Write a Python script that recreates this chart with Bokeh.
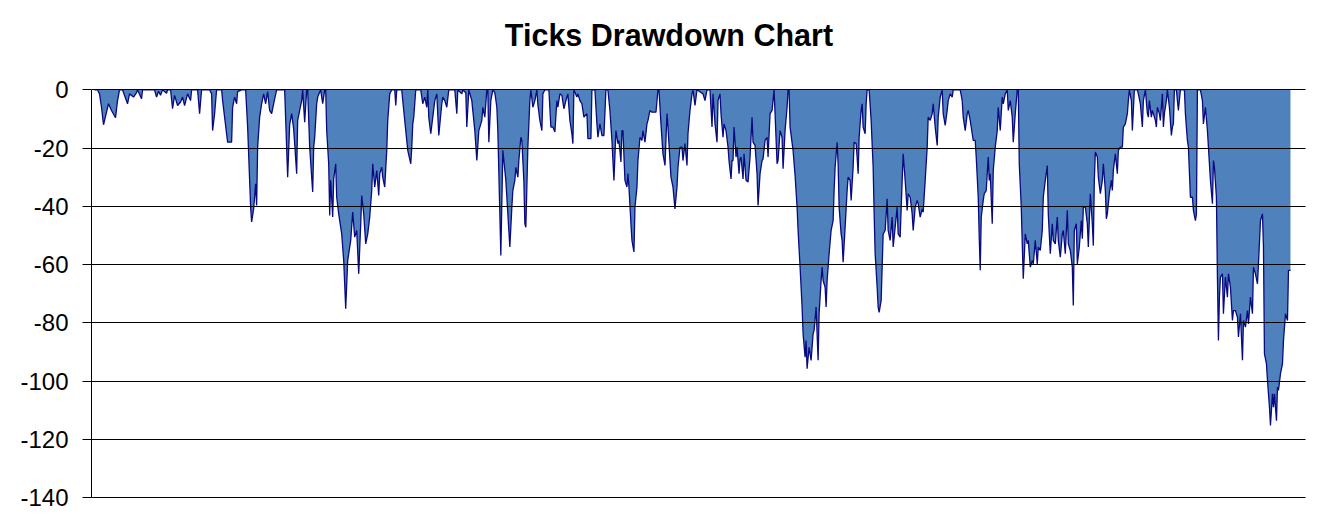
from bokeh.plotting import figure
from bokeh.models import Range1d, FixedTicker, Label
from bokeh.embed import file_html
from bokeh.resources import INLINE

title_text = "Ticks Drawdown Chart"
y_ticks = [0, -20, -40, -60, -80, -100, -120, -140]
y_tick_labels = ["0", "-20", "-40", "-60", "-80", "-100", "-120", "-140"]

ticks = [
    0, 3, 5, 7, 9, 12, 14, 17, 21, 23, 25,
    28, 33, 35, 39, 42, 43, 47, 48,
    60, 62, 64, 66, 68, 72, 73,
    76, 78, 80, 83, 86, 88, 90, 93, 96, 97,
    103, 105, 107,
    115, 117, 118, 120, 122,
    127, 128, 133, 137, 138, 140, 142, 143, 147,
    151, 153, 156, 157, 159, 161, 162, 163, 165, 167, 169, 171, 173, 175, 177, 180, 182,
    190, 193, 195, 197, 199, 202, 203, 205, 207, 208, 210, 212,
    213, 215, 218, 219, 220, 222, 223, 226, 228, 230,
    231, 232, 234, 235, 236, 238, 239, 241, 242, 244, 247, 249, 251, 253, 256, 258, 260, 262, 264,
    266, 267, 269, 271, 273, 275, 277, 278, 280, 282, 284, 285, 287, 288, 290, 292, 293, 295, 297,
    300, 301, 302, 307, 308, 311, 313, 316, 317, 318, 319, 321,
    326, 328, 330, 332, 333, 334, 336, 338, 340, 342, 344, 347, 348, 350, 352, 354,
    360, 362, 363, 367, 368, 371, 372, 374,
    377, 380, 382, 384, 387, 388, 390, 392, 393, 394, 396, 398, 400, 402,
    403, 406, 408, 411, 413, 415, 417, 418, 420, 421, 423, 424, 426, 427, 429, 430, 431, 433, 435, 436,
    438, 440, 442, 443, 445, 447, 448, 450,
    454, 456, 458, 460, 462, 463, 465, 467, 469, 471, 473, 475, 477, 478, 479,
    482, 483, 485, 487, 489, 492, 493, 496, 497,
    500, 502, 503, 505, 507, 509, 511,
    513, 515, 517, 519, 521, 523, 524, 526, 527, 528, 530, 532, 533, 534, 536, 537, 539, 540,
    542, 543, 545, 547, 548, 550, 552, 553, 555, 557, 561, 563,
    564, 566, 568, 570, 572, 573, 576, 578, 580, 582, 583, 585, 587, 588, 590, 592, 593, 595, 597, 598, 600, 602,
    608, 610, 612, 615, 617, 618, 620, 622, 623, 625, 626, 628, 629, 631, 633, 634, 636, 637, 638, 639,
    641, 642, 644, 645, 646, 648, 649, 651, 653, 655, 657, 658, 660, 662, 663, 665, 667, 668, 670, 672, 673, 675, 677, 679,
    680, 682, 683, 685, 687, 688, 690, 692, 693,
    694, 695, 698, 700, 702, 703, 705, 707, 708, 710, 711, 712, 714, 715, 716, 718, 719, 721, 722, 723, 724,
    726, 727, 728, 730, 731, 732, 734, 736, 738, 739, 740, 742, 743, 744, 746, 747, 748, 750,
    752, 753, 755, 756, 758, 759, 761, 762, 763, 764, 766, 767, 768, 770, 771, 772,
    774, 776, 778, 779, 780, 782, 783, 784, 786, 787, 788, 790, 792, 793, 795, 797, 798, 800,
    802, 803, 805, 807, 808, 810, 812, 813, 815, 817, 818, 820, 822, 823, 825, 827, 828, 830,
    832, 833, 835, 837, 838, 840, 842, 843, 845, 847, 848, 850, 852, 853, 855, 857, 858,
    865, 867, 868, 870, 872, 873, 875, 877, 878, 880, 881, 883, 884, 885, 886, 888, 889, 891,
    893, 894, 895, 897, 898, 900, 902, 903, 905, 907, 908, 910, 912, 913, 915, 917, 918, 920, 922,
    923, 924, 926, 927, 928, 930, 932, 933, 935, 937, 938, 940, 942, 943, 945, 947, 948, 950,
    952, 953, 955, 957, 958, 960, 962, 963, 965, 967, 968, 970, 972, 973, 975, 977, 978, 979,
    981, 982, 984, 986, 987, 988, 990, 992, 993, 995, 997, 998, 999, 1000, 1002, 1003, 1005, 1007, 1008,
    1010, 1011, 1012, 1014, 1016, 1017, 1018, 1020, 1022, 1023, 1025, 1027, 1028, 1030, 1032, 1033, 1034,
    1036, 1037, 1039, 1042, 1043, 1045, 1047, 1048, 1050, 1052, 1053, 1054, 1056, 1057, 1058, 1060, 1061, 1062,
    1064, 1065, 1067, 1068, 1069, 1071, 1072, 1074, 1076, 1077, 1078, 1079, 1081, 1082, 1083, 1085,
    1089, 1090, 1092, 1093, 1095, 1097, 1098, 1100, 1101, 1102,
    1105, 1107, 1108, 1110, 1112, 1113, 1115, 1117, 1118, 1119, 1121, 1122, 1123, 1124, 1125, 1127, 1128, 1130,
    1132, 1133, 1135, 1137, 1138, 1140, 1142, 1143, 1145, 1147, 1148, 1150, 1152, 1153, 1155, 1157, 1158, 1160, 1162, 1163, 1165, 1167, 1168,
    1169, 1171, 1172, 1174, 1175, 1177, 1178, 1179, 1181, 1182, 1183, 1185, 1187, 1188, 1190, 1192, 1193, 1195,
]

drawdown = [
    0, 0, -1.4, -6.0, -12.0, -7.7, -4.8, -7.1, -9.6, -3.7, 0,
    0, -4.8, -1.4, -2.5, -1.0, 0, -3.1, 0,
    0, -2.5, -0.5, -1.9, 0, -1.2, 0,
    0, -6.5, -1.9, -5.4, -4.2, -2.5, -5.4, -1.4, -3.7, 0,
    0, -8.2, 0,
    0, -1.4, -14.0, -8.2, 0,
    0, -3.7, -18.0, -18.0, -6.0, -2.5, -4.8, -0.6, 0,
    0, -12.8, -40.3, -45.4, -40.9, -32.3, -39.7, -19.7, -9.4, -4.8, -1.4, -4.8, -0.6, -7.1, -8.2, -3.1, 0,
    0, -30.0, -12.0, -8.2, -13.4, -28.8, -10.5, -7.1, -3.7, 0, -11.1, 0,
    0, -19.7, -35.1, -19.7, -16.3, -4.8, -2.5, 0, -4.8, 0,
    0, -14.0, -25.4, -43.2, -31.1, -43.7, -30.6, -25.4, -36.9, -42.6, -49.5, -58.6, -75.2, -58.6, -51.7, -42.0, -50.6, -48.3, -63.2,
    -46.0, -36.3, -42.6, -52.9, -49.5, -43.7, -34.6, -25.4, -33.4, -27.7, -36.3, -28.8, -26.6, -30.0, -33.4, -20.8, -10.5, -1.4, 0,
    0, -5.4, 0, 0, -3.7, -14.0, -20.8, -25.4, -19.7, -11.7, -9.4, 0,
    0, -4.8, -2.5, -6.0, 0, -9.4, -15.1, -9.4, -3.7, -1.4, -15.7, -4.8, -2.5, -3.7, -6.0, 0,
    0, -8.2, 0, -1.4, 0, -1.0, -12.8, 0,
    -3.7, -14.0, -24.3, -14.0, -10.5, -6.0, -9.4, 0, 0, -18.0, -3.7, 0, -1.0, -6.0,
    -14.0, -56.9, -20.8, -31.1, -42.6, -54.0, -40.3, -34.6, -31.1, -26.6, -30.0, -24.3, -16.3, -17.4, -31.1, -46.0, -47.2, -19.7, -3.7, 0,
    -6.0, -3.7, 0, -5.0, -10.5, -14.0, -1.4, 0,
    0, -12.8, -12.8, -14.5, -3.7, -6.0, -1.4, -1.9, -6.5, -3.7, -1.4, -10.5, -15.1, -18.5, 0,
    -2.5, -1.4, -3.7, -4.8, -9.4, -8.2, -16.8, -16.8, 0,
    0, -11.7, -16.3, -11.7, -15.7, -15.7, 0,
    0, -7.1, -17.4, -31.1, -14.0, -18.5, -17.4, -24.8, -14.0, -14.0, -31.1, -33.4, -28.8, -33.4, -46.0, -51.7, -55.7, -40.3,
    -33.4, -24.3, -16.3, -17.4, -14.0, -18.0, -11.7, -10.5, -7.1, -7.7, -7.7, 0,
    0, -11.7, -22.0, -26.0, -8.2, -12.8, -30.0, -33.4, -40.9, -33.4, -26.6, -19.7, -19.7, -24.3, -18.5, -26.0, -15.1, -7.1, -1.4, 0, -5.4, 0,
    -1.4, -3.7, 0, 0, -12.8, -1.4, -11.7, -18.0, -3.7, -1.4, -8.2, -16.3, -11.7, -14.0, -19.7, -24.3, -30.6, -24.3, -24.3, -12.8,
    -23.1, -19.7, -28.8, -23.7, -23.1, -30.6, -22.0, -31.1, -31.7, -23.1, -9.4, -18.0, -19.1, -28.8, -39.7, -28.8, -24.3, -23.7, -17.4, -16.3, -23.1, -8.2, -7.1, 0,
    -8.2, -25.4, -24.3, -14.0, -16.3, -27.1, -14.0, -6.0, 0,
    0, -12.8, -20.8, -29.4, -40.3, -48.3, -60.9, -74.6, -83.8, -91.8, -86.1, -95.8, -88.4, -90.7, -92.9, -83.8, -82.6, -74.6, -83.8, -92.9, -76.9,
    -65.5, -60.9, -65.5, -67.8, -74.6, -65.5, -56.3, -48.3, -44.9, -34.6, -26.6, -18.0, -25.4, -40.3, -49.5, -51.7, -59.2, -47.2,
    -34.6, -30.0, -31.1, -38.0, -26.6, -18.0, -18.5, -23.1, -28.8, -16.3, -7.1, -4.8, -12.8, -15.1, -4.8, 0,
    0, -10.5, -26.6, -42.6, -56.3, -67.8, -74.6, -76.4, -72.3, -60.9, -49.5, -48.3, -37.4, -48.3, -51.7, -43.7, -54.0, -47.2,
    -40.3, -49.5, -50.6, -31.1, -22.0, -31.1, -41.4, -35.7, -36.9, -42.6, -48.3, -40.3, -38.0, -39.1, -43.7, -40.9, -42.0, -31.1,
    -19.7, -9.4, -10.5, -8.2, -4.8, -12.8, -19.1, -9.4, -2.5, 0, -8.2, -12.2, -7.1, -3.7, -1.4, -2.5, 0,
    0, -3.7, -9.4, -14.0, -8.2, -7.1, -10.5, -15.1, -17.4, -17.4, -23.1, -36.9, -50.6, -62.0, -43.7, -38.0, -35.7, -34.6,
    -23.1, -31.1, -28.8, -46.0, -27.7, -19.7, -14.0, -6.0, -14.0, -2.5, -4.8, -1.4, 0, -7.1, -3.7, -9.4, -18.0, -8.2, 0,
    0, -25.4, -40.3, -52.9, -64.9, -49.5, -52.9, -51.7, -60.9, -58.6, -59.8, -51.7, -59.8, -54.0, -55.2, -48.3, -36.9, -31.1,
    -26.0, -42.6, -56.3, -46.0, -51.7, -52.9, -43.7, -51.7, -57.5, -49.5, -48.3, -56.3, -41.4, -52.9, -55.2, -60.9, -74.1, -48.3,
    -46.0, -59.8, -54.0, -44.9, -51.1, -40.3, -40.3, -46.0, -54.0, -35.7, -46.0, -53.5, -31.1, -21.4, -23.1, -30.0, -35.7, -31.1, -25.4,
    -34.6, -44.3, -42.6, -35.7, -31.1, -34.6, -27.7, -22.0, -28.8, -20.8, -19.7, -19.7, -12.8, -11.7, -8.2, -3.7, 0,
    -3.7, -14.0, 0, 0, -1.4, -4.8, -12.8, -3.7, 0, -8.2, -9.4, -3.7, -9.4, -7.1, -8.2, -10.5, -12.8, -6.0,
    -8.2, -10.5, -1.4, -12.8, -8.2, -3.7, 0, -6.0, -15.7, -12.8, -11.7, 0, 0, -3.7, -7.1, 0,
    0, -8.2, -17.4, -19.7, -36.9, -36.9, -41.4, -44.9, -42.6, 0,
    0, -3.7, -11.7, -6.0, -14.0, -19.7, -31.1, -39.1, -24.3, -26.6, -36.9, -64.3, -86.1, -71.2, -64.3, -63.2, -76.9, -64.3,
    -71.2, -63.2, -67.8, -79.2, -75.8, -75.8, -78.1, -84.9, -76.9, -92.9, -79.2, -81.5, -75.8, -80.4, -71.2, -76.9, -60.9, -63.2, -66.6, -59.8, -44.9, -42.6, -54.0,
    -90.7, -94.1, -99.8, -109.0, -115.3, -104.4, -109.0, -104.4, -113.6, -102.1, -103.2, -97.5, -94.1, -86.1, -76.9, -79.2, -62.0, -62.0,
]

assert len(ticks) == len(drawdown), (len(ticks), len(drawdown))

FONT = "Liberation Sans"

# The frame reaches the top of the canvas so that the chart title can sit in
# the headroom above the 0 line; the axis and grid are bounded to [-140, 0].
p = figure(
    width=1315, height=518,
    output_backend="svg", toolbar_location=None,
    x_range=Range1d(-3, 1210), y_range=Range1d(-140.34, 30.66),
    min_border_left=91, min_border_right=10,
    min_border_top=0, min_border_bottom=20,
    background_fill_color="white", border_fill_color="white",
)
p.outline_line_color = None

p.varea(x=ticks, y1=0, y2=drawdown, fill_color="#4F81BD", fill_alpha=1.0)
p.line(x=ticks, y=drawdown, line_color="#0A0A80", line_width=1.3)

p.xaxis.visible = False
p.xgrid.visible = False

p.yaxis.ticker = FixedTicker(ticks=y_ticks)
p.ygrid.ticker = FixedTicker(ticks=y_ticks)
p.yaxis.bounds = (y_ticks[-1], y_ticks[0])
p.yaxis.major_label_overrides = {v: s for v, s in zip(y_ticks, y_tick_labels)}
p.ygrid.grid_line_color = "black"
p.ygrid.grid_line_width = 1
p.ygrid.level = "overlay"

p.yaxis.axis_line_color = "black"
p.yaxis.axis_line_width = 1
p.yaxis.major_tick_line_color = "black"
p.yaxis.major_tick_out = 9
p.yaxis.major_tick_in = 0
p.yaxis.minor_tick_out = 0
p.yaxis.minor_tick_in = 0
p.yaxis.major_label_text_font = FONT
p.yaxis.major_label_text_font_size = "24px"
p.yaxis.major_label_text_color = "black"
p.yaxis.major_label_standoff = 14

title = Label(
    x=574, y=18.9, text=title_text,
    text_align="center", text_baseline="alphabetic",
    text_font=FONT, text_font_style="bold", text_font_size="30.5px",
    text_color="black",
)
p.add_layout(title)

open("out.html", "w").write(file_html(p, INLINE))
